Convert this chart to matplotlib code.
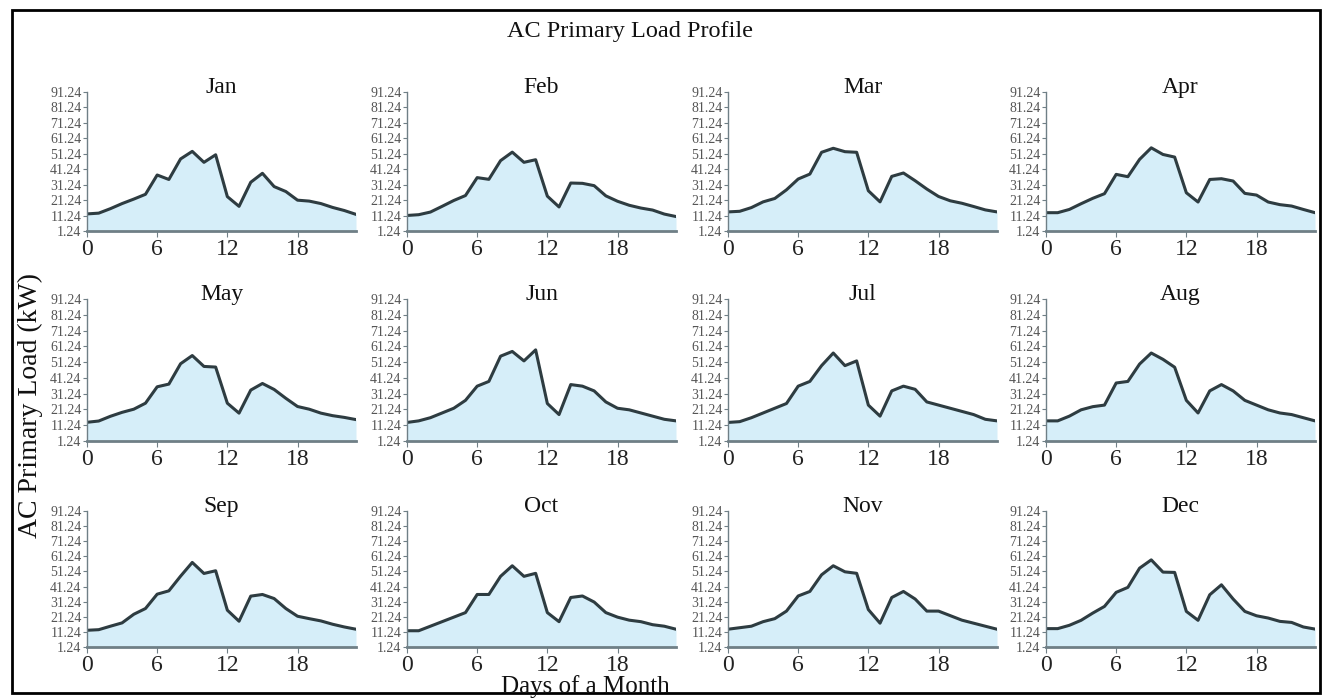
import matplotlib
matplotlib.use("Agg")
import matplotlib.pyplot as plt
from matplotlib.patches import Rectangle
import numpy as np

plt.rcParams['font.family'] = ['Liberation Serif', 'DejaVu Serif']

hours = list(range(24))
months = ["Jan", "Feb", "Mar", "Apr", "May", "Jun",
          "Jul", "Aug", "Sep", "Oct", "Nov", "Dec"]

jan = [12.3, 12.8, 15.7, 19.0, 21.9, 25.0, 37.5, 34.6, 47.9, 52.8, 45.7, 50.6,
       23.5, 17.2, 32.8, 38.6, 30.0, 26.8, 21.2, 20.6, 19.0, 16.5, 14.5, 12.0]
feb = [11.3, 11.8, 13.5, 17.2, 21.0, 24.2, 35.8, 34.7, 46.8, 52.3, 45.7, 47.4,
       23.8, 16.8, 32.3, 32.1, 30.6, 24.0, 20.5, 17.9, 16.1, 14.8, 12.2, 10.6]
mar = [13.6, 14.0, 16.4, 20.1, 22.3, 27.9, 34.9, 38.1, 52.2, 54.8, 52.6, 52.2,
       27.3, 20.1, 36.6, 38.8, 33.8, 28.4, 23.6, 20.8, 19.2, 17.1, 14.9, 13.6]
apr = [13.1, 13.1, 15.2, 18.9, 22.4, 25.4, 37.9, 36.4, 47.6, 55.1, 50.8, 49.1,
       26.0, 20.0, 34.6, 35.1, 33.6, 25.6, 24.5, 20.0, 18.3, 17.4, 15.2, 13.1]
may = [13.1, 13.9, 16.9, 19.4, 21.4, 25.2, 35.6, 37.3, 50.2, 55.4, 48.5, 48.1,
       25.2, 18.9, 33.5, 37.7, 33.9, 28.3, 23.1, 21.4, 18.9, 17.3, 16.2, 14.8]
jun = [13.0, 14.0, 16.0, 19.0, 22.0, 27.0, 36.0, 39.0, 55.0, 58.0, 52.0, 59.0,
       25.0, 18.0, 37.0, 36.0, 33.0, 26.0, 22.0, 21.0, 19.0, 17.0, 15.0, 14.0]
jul = [13.0, 13.5, 16.0, 19.0, 22.0, 25.0, 36.0, 39.0, 49.0, 57.0, 49.0, 52.0,
       24.0, 17.0, 33.0, 36.0, 34.0, 26.0, 24.0, 22.0, 20.0, 18.0, 15.0, 14.0]
aug = [14.0, 14.0, 17.0, 21.0, 23.0, 24.0, 38.0, 39.0, 50.0, 57.0, 53.0, 48.0,
       27.0, 19.0, 33.0, 37.0, 33.0, 27.0, 24.0, 21.0, 19.0, 18.0, 16.0, 14.0]
sep = [12.3, 12.7, 15.0, 17.2, 22.9, 26.7, 36.2, 38.4, 48.1, 57.2, 49.9, 51.7,
       25.6, 18.3, 34.9, 36.0, 33.3, 26.7, 21.6, 20.0, 18.5, 16.3, 14.5, 13.0]
oct_ = [12.0, 12.0, 15.0, 18.0, 21.0, 24.0, 36.0, 36.0, 48.0, 55.0, 48.0, 50.0,
        24.0, 18.0, 34.0, 35.0, 31.0, 24.0, 21.0, 19.0, 18.0, 16.0, 15.0, 13.0]
nov = [13.0, 14.0, 15.0, 18.0, 20.0, 25.0, 35.0, 38.0, 49.0, 55.0, 51.0, 50.0,
       26.0, 17.0, 34.0, 38.0, 33.0, 25.0, 25.0, 22.0, 19.0, 17.0, 15.0, 13.0]
dec = [13.4, 13.4, 15.6, 18.9, 23.7, 28.1, 37.4, 40.7, 53.4, 58.9, 50.8, 50.6,
       24.8, 18.9, 35.8, 42.4, 33.0, 24.8, 21.9, 20.4, 18.2, 17.5, 14.5, 13.1]

series = [jan, feb, mar, apr, may, jun, jul, aug, sep, oct_, nov, dec]

y_ticks = [1.24, 11.24, 21.24, 31.24, 41.24, 51.24, 61.24, 71.24, 81.24, 91.24]
y_tick_labels = ["1.24", "11.24", "21.24", "31.24", "41.24", "51.24",
                 "61.24", "71.24", "81.24", "91.24"]
x_ticks = [0, 6, 12, 18]

title = "AC Primary Load Profile"
ylabel = "AC Primary Load (kW)"
xlabel = "Days of a Month"

W, H = 1327, 698
fig = plt.figure(figsize=(W / 100, H / 100), dpi=100)

col_left = [87, 407, 728, 1046]
col_w = 269
row_tb = [(92, 231), (299, 441), (511, 647)]

fill_c = '#d6eef9'
line_c = '#2e3c41'
spine_c = '#6f7f86'

for i, (m, vals) in enumerate(zip(months, series)):
    r, c = divmod(i, 4)
    top, bot = row_tb[r]
    ax = fig.add_axes([col_left[c] / W, 1 - bot / H, col_w / W, (bot - top) / H])
    ax.fill_between(hours, 1.24, vals, color=fill_c, lw=0)
    ax.plot(hours, vals, color=line_c, lw=2.2)
    ax.set_xlim(0, 23)
    ax.set_ylim(1.24, 91.24)
    ax.set_yticks(y_ticks)
    ax.set_yticklabels(y_tick_labels)
    ax.set_xticks(x_ticks)
    ax.set_xticklabels([str(t) for t in x_ticks])
    for s in ['top', 'right']:
        ax.spines[s].set_visible(False)
    ax.spines['left'].set_color(spine_c)
    ax.spines['left'].set_linewidth(1.0)
    ax.spines['bottom'].set_color(spine_c)
    ax.spines['bottom'].set_linewidth(2.0)
    ax.tick_params(axis='y', length=3, width=0.8, color=spine_c, pad=1,
                   labelsize=10, labelcolor='#555555')
    ax.tick_params(axis='x', length=4, width=0.8, color=spine_c, pad=2,
                   labelsize=17, labelcolor='#222222')
    ax.text(0.5, 1.035, m, transform=ax.transAxes, ha='center', va='center',
            fontsize=17, color='#111111')

fig.text(630 / W, 1 - 32 / H, title, ha='center', va='center', fontsize=17.5,
         color='#111111')
fig.text(30 / W, 1 - 405 / H, ylabel, ha='center', va='center', fontsize=20,
         rotation=90, color='#111111')
fig.text(585 / W, 1 - 687 / H, xlabel, ha='center', va='center', fontsize=18,
         color='#111111')

fig.add_artist(Rectangle((12 / W, 1 - 693 / H), (1320 - 12) / W, (693 - 10) / H,
                         transform=fig.transFigure, fill=False, lw=2,
                         ec='black'))

fig.savefig("out.png", dpi=100, facecolor='white')
